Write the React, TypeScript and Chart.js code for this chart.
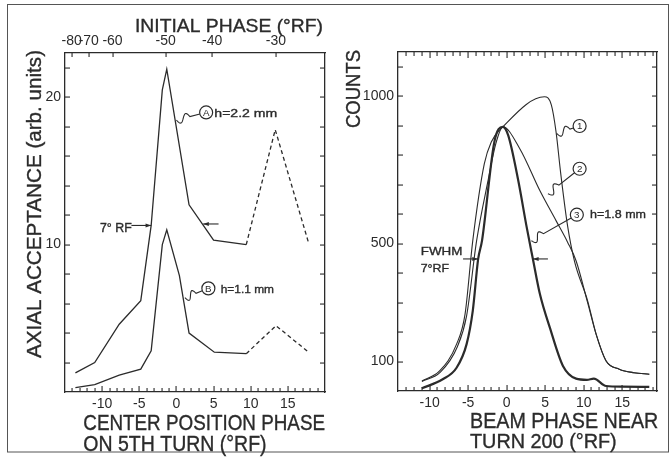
import React, { useEffect, useRef } from 'react';
import { Chart, registerables } from 'chart.js';
Chart.register(...registerables);

// ---------- Left panel data (center position phase vs axial acceptance) ----------
const aX = [-13.6, -11.0, -7.7, -4.8, -3.4, -1.9, -1.3, 1.7, 5.0, 9.4, 13.3, 17.8];
const aY = [1.3, 2.0, 4.6, 6.2, 11.3, 20.5, 21.9, 12.7, 10.3, 10.0, 17.8, 10.1];
const bX = [-13.6, -11.0, -7.7, -4.8, -3.4, -1.9, -1.3, 0.4, 1.7, 5.1, 9.4, 13.4, 17.8];
const bY = [0.3, 0.5, 1.15, 1.55, 2.8, 10.0, 11.0, 7.9, 4.0, 2.7, 2.6, 4.5, 2.7];
const dashStartX = 9.4;
const leftXLabels = [-10, -5, 0, 5, 10, 15];
const leftYLabels = [10, 20];
const topTickPos = [-14.1, -11.8, -8.6, -1.44, 4.8, 13.4];
const topTickLabels = ['-80', '-70', '-60', '-50', '-40', '-30'];

// ---------- Right panel data (beam phase vs counts) ----------
const c1X = [-11.0, -8.7, -6.5, -5.4, -4.4, -2.9, -2.0, -0.5, 4.9, 5.8, 6.4, 7.0, 7.9, 8.8, 10.5, 11.6, 12.9, 14.6, 16.5, 18.5];
const c1Y = [34, 68, 159, 261, 510, 771, 845, 896, 998, 970, 880, 740, 560, 440, 306, 193, 102, 74, 62, 57];
const c2X = [-11.0, -8.6, -6.4, -5.2, -3.9, -2.4, -1.4, -0.5, 1.7, 4.3, 6.4, 7.9, 9.0, 10.5, 11.6, 12.9, 14.6, 16.5, 18.5];
const c2Y = [32, 64, 150, 255, 510, 716, 840, 896, 822, 680, 578, 505, 442, 300, 193, 102, 74, 62, 57];
const c3X = [-11.0, -8.3, -6.5, -5.2, -4.4, -3.7, -3.2, -1.6, -0.5, 0.2, 1.5, 2.6, 3.4, 4.3, 5.6, 7.3, 9.0, 10.4, 11.3, 12.9, 15.0, 18.5];
const c3Y = [9, 40, 79, 159, 272, 448, 510, 845, 896, 867, 714, 555, 448, 330, 215, 85, 42, 38, 42, 17, 15, 14];
const rightXLabels = [-10, -5, 0, 5, 10, 15];
const rightYLabels = [100, 500, 1000];

const INK = '#2b2b2b';
const FONT = '"Liberation Sans", Arial, sans-serif';

const pts = (xs: number[], ys: number[]) => xs.map((x, i) => ({ x, y: ys[i] }));

function txt(ctx: CanvasRenderingContext2D, s: string, x: number, y: number, capH: number, width: number, rotate = 0) {
  const size = capH / 0.716;
  ctx.save();
  ctx.font = `${size}px ${FONT}`;
  const w = ctx.measureText(s).width;
  ctx.translate(x, y);
  if (rotate) ctx.rotate(rotate);
  ctx.scale(width / w, 1);
  ctx.fillStyle = INK;
  ctx.strokeStyle = INK;
  ctx.lineWidth = 0.35;
  ctx.textBaseline = 'alphabetic';
  ctx.textAlign = 'left';
  ctx.fillText(s, 0, 0);
  ctx.strokeText(s, 0, 0);
  ctx.restore();
}

function circleLabel(ctx: CanvasRenderingContext2D, cx: number, cy: number, r: number, s: string) {
  ctx.save();
  ctx.strokeStyle = INK;
  ctx.lineWidth = 1.2;
  ctx.beginPath();
  ctx.arc(cx, cy, r, 0, Math.PI * 2);
  ctx.stroke();
  ctx.fillStyle = INK;
  ctx.font = `${r * 1.5}px ${FONT}`;
  ctx.textAlign = 'center';
  ctx.textBaseline = 'middle';
  ctx.fillText(s, cx, cy + 0.5);
  ctx.restore();
}

function squiggle(ctx: CanvasRenderingContext2D, x0: number, y0: number, x1: number, y1: number, r: number, wl: number, amp: number) {
  const dx = x1 - x0, dy = y1 - y0;
  const L = Math.hypot(dx, dy);
  const ux = dx / L, uy = dy / L, nx = -uy, ny = ux;
  ctx.save();
  ctx.strokeStyle = INK;
  ctx.lineWidth = 1.1;
  ctx.beginPath();
  ctx.moveTo(x0, y0);
  for (let i = 0; i <= 40; i++) {
    const t = (i / 40) * wl;
    const off = amp * Math.sin((2 * Math.PI * t) / wl);
    ctx.lineTo(x0 + ux * t + nx * off, y0 + uy * t + ny * off);
  }
  ctx.lineTo(x1 - ux * r, y1 - uy * r);
  ctx.stroke();
  ctx.restore();
}

function arrow(ctx: CanvasRenderingContext2D, x0: number, y0: number, x1: number, y1: number) {
  const ang = Math.atan2(y1 - y0, x1 - x0);
  ctx.save();
  ctx.strokeStyle = INK;
  ctx.fillStyle = INK;
  ctx.lineWidth = 1.1;
  ctx.beginPath();
  ctx.moveTo(x0, y0);
  ctx.lineTo(x1, y1);
  ctx.stroke();
  ctx.beginPath();
  ctx.moveTo(x1, y1);
  ctx.lineTo(x1 - 6 * Math.cos(ang - 0.35), y1 - 6 * Math.sin(ang - 0.35));
  ctx.lineTo(x1 - 6 * Math.cos(ang + 0.35), y1 - 6 * Math.sin(ang + 0.35));
  ctx.closePath();
  ctx.fill();
  ctx.restore();
}

// inward tick marks at every tick value of a Chart.js scale
function drawTicks(chart: any, id: string, values: number[], majorEvery: number) {
  const ctx = chart.ctx as CanvasRenderingContext2D;
  const ca = chart.chartArea;
  const s = chart.scales[id];
  if (!s) return;
  ctx.save();
  ctx.fillStyle = INK;
  values.forEach((v) => {
    const p = Math.round(s.getPixelForValue(v));
    const major = majorEvery > 0 && Math.abs(v / majorEvery - Math.round(v / majorEvery)) < 1e-6;
    if (s.position === 'bottom' || s.position === 'top') {
      if (p <= ca.left + 1 || p >= ca.right - 1) return;
      const len = major ? 6 : 4;
      if (s.position === 'bottom') ctx.fillRect(p - 0.5, ca.bottom - len, 1.1, len);
      else ctx.fillRect(p - 0.5, ca.top, 1.1, len);
    } else {
      if (p <= ca.top + 1 || p >= ca.bottom - 1) return;
      const len = 5;
      if (s.position === 'left') ctx.fillRect(ca.left, p - 0.5, len, 1.1);
      else ctx.fillRect(ca.right - len, p - 0.5, len, 1.1);
    }
  });
  ctx.restore();
}

const range = (a: number, b: number, step: number) => {
  const out: number[] = [];
  for (let v = a; v <= b + 1e-9; v += step) out.push(Math.round(v * 1000) / 1000);
  return out;
};

const leftDecor = {
  id: 'leftDecor',
  beforeDraw(chart: any) {
    const ctx = chart.ctx as CanvasRenderingContext2D;
    ctx.save();
    ctx.fillStyle = '#ffffff';
    ctx.fillRect(0, 0, chart.width, chart.height);
    ctx.strokeStyle = '#555';
    ctx.lineWidth = 1;
    ctx.strokeRect(7.5, 4.5, 661, 447.5);
    ctx.restore();
  },
  afterDraw(chart: any) {
    const ctx = chart.ctx as CanvasRenderingContext2D;
    drawTicks(chart, 'x', range(-15, 20, 1), 5);
    drawTicks(chart, 'x2', topTickPos, 0);
    drawTicks(chart, 'y', range(0, 22, 2), 0);
    drawTicks(chart, 'y2', range(0, 22, 2), 0);
    const sx = chart.scales.x, sy = chart.scales.y;
    const X = (v: number) => sx.getPixelForValue(v);
    const Y = (v: number) => sy.getPixelForValue(v);
    txt(ctx, 'INITIAL PHASE (°RF)', 135, 31.7, 13.3, 188);
    txt(ctx, 'AXIAL ACCEPTANCE (arb. units)', 40.5, 358, 14.5, 308, -Math.PI / 2);
    txt(ctx, 'CENTER POSITION PHASE', 83.3, 430, 16.3, 241.7);
    txt(ctx, 'ON 5TH TURN (°RF)', 83.3, 451, 15.5, 183.3);
    squiggle(ctx, X(0.0), Y(18.45), X(4.0), Y(18.97), 6.5, 14, 4);
    circleLabel(ctx, X(4.0), Y(18.97), 6.5, 'A');
    txt(ctx, 'h=2.2 mm', 214.3, 116.7, 8.3, 63);
    squiggle(ctx, X(1.14), Y(6.4), X(4.3), Y(7.03), 6.5, 12, 4);
    circleLabel(ctx, X(4.3), Y(7.03), 6.5, 'B');
    txt(ctx, 'h=1.1 mm', 220.7, 293.3, 8.3, 53.3);
    txt(ctx, '7° RF', 100, 231.7, 8.7, 31.7);
    arrow(ctx, X(-6.06), Y(11.3), X(-3.4), Y(11.3));
    arrow(ctx, X(5.67), Y(11.4), X(3.6), Y(11.4));
  },
};

const rightDecor = {
  id: 'rightDecor',
  afterDraw(chart: any) {
    const ctx = chart.ctx as CanvasRenderingContext2D;
    drawTicks(chart, 'x', range(-14, 19, 1), 5);
    drawTicks(chart, 'x2', range(-14, 19, 1), 5);
    drawTicks(chart, 'y', range(100, 1100, 100), 0);
    drawTicks(chart, 'y2', range(100, 1100, 100), 0);
    const sx = chart.scales.x, sy = chart.scales.y;
    const X = (v: number) => sx.getPixelForValue(v);
    const Y = (v: number) => sy.getPixelForValue(v);
    txt(ctx, 'COUNTS', 360, 128, 14.5, 78, -Math.PI / 2);
    txt(ctx, 'BEAM PHASE NEAR', 470, 428.3, 16.3, 188.3);
    txt(ctx, 'TURN 200 (°RF)', 470, 448.3, 15, 146.7);
    squiggle(ctx, X(6.48), Y(874), X(9.46), Y(899), 6.5, 14, 4);
    circleLabel(ctx, X(9.46), Y(899), 6.5, '1');
    squiggle(ctx, X(5.35), Y(669), X(9.46), Y(754), 6.5, 14, 4);
    circleLabel(ctx, X(9.46), Y(754), 6.5, '2');
    squiggle(ctx, X(3.2), Y(510), X(9.1), Y(598), 6.5, 14, 4);
    circleLabel(ctx, X(9.1), Y(598), 6.5, '3');
    txt(ctx, 'h=1.8 mm', 590, 218.3, 8.3, 56);
    txt(ctx, 'FWHM', 420.7, 255, 8.3, 41.7);
    txt(ctx, '7°RF', 420.7, 271.7, 8.3, 28.3);
    arrow(ctx, X(-5.66), Y(448), X(-3.73), Y(448));
    arrow(ctx, X(5.35), Y(448), X(3.41), Y(448));
  },
};

const tickFont = { family: FONT, size: 14 };

function axisCommon(extra: any) {
  return {
    type: 'linear',
    border: { color: INK, width: 1.3 },
    grid: { drawOnChartArea: false, drawTicks: false },
    ...extra,
    ticks: { autoSkip: false, maxRotation: 0, color: INK, font: tickFont, ...(extra.ticks || {}) },
  };
}

export default function App() {
  const leftRef = useRef<HTMLCanvasElement>(null);
  const rightRef = useRef<HTMLCanvasElement>(null);

  useEffect(() => {
    document.body.style.margin = '0';
    const left = new Chart(leftRef.current as HTMLCanvasElement, {
      type: 'line',
      data: {
        datasets: [
          {
            data: pts(aX, aY),
            borderColor: INK,
            borderWidth: 1.3,
            pointRadius: 0,
            tension: 0,
            segment: { borderDash: (c: any) => (c.p0.parsed.x >= dashStartX ? [4, 3] : undefined) },
          },
          {
            data: pts(bX, bY),
            borderColor: INK,
            borderWidth: 1.3,
            pointRadius: 0,
            tension: 0,
            segment: { borderDash: (c: any) => (c.p0.parsed.x >= dashStartX ? [4, 3] : undefined) },
          },
        ],
      },
      options: {
        responsive: false,
        animation: false,
        layout: { padding: { left: 0, right: 335, top: 0, bottom: 0 } },
        plugins: { legend: { display: false }, tooltip: { enabled: false } },
        scales: {
          x: axisCommon({
            position: 'bottom', min: -15, max: 20,
            afterFit: (s: any) => { s.height = 70; },
            ticks: { stepSize: 1, padding: 4, callback: (v: number) => (leftXLabels.includes(v) ? String(v) : '') },
          }),
          x2: axisCommon({
            position: 'top', min: -15, max: 20,
            afterFit: (s: any) => { s.height = 53; },
            afterBuildTicks: (s: any) => { s.ticks = topTickPos.map((v) => ({ value: v })); },
            ticks: { padding: 3, callback: (_v: number, i: number) => topTickLabels[i] },
          }),
          y: axisCommon({
            position: 'left', min: 0, max: 23,
            afterFit: (s: any) => { s.width = 65; },
            ticks: { stepSize: 2, padding: 4, callback: (v: number) => (leftYLabels.includes(v) ? String(v) : '') },
          }),
          y2: axisCommon({
            position: 'right', min: 0, max: 23,
            afterFit: (s: any) => { s.width = 10; },
            ticks: { stepSize: 2, callback: () => '' },
          }),
        },
      } as any,
      plugins: [leftDecor],
    });

    const lineDs = (xs: number[], ys: number[], w: number) => ({
      data: pts(xs, ys),
      borderColor: INK,
      borderWidth: w,
      pointRadius: 0,
      cubicInterpolationMode: 'monotone',
    });

    const right = new Chart(rightRef.current as HTMLCanvasElement, {
      type: 'line',
      data: {
        datasets: [lineDs(c1X, c1Y, 1.1), lineDs(c2X, c2Y, 1.1), lineDs(c3X, c3Y, 2.2)],
      },
      options: {
        responsive: false,
        animation: false,
        layout: { padding: { left: 335, right: 0, top: 0, bottom: 0 } },
        plugins: { legend: { display: false }, tooltip: { enabled: false } },
        scales: {
          x: axisCommon({
            position: 'bottom', min: -14.1, max: 19.5,
            afterFit: (s: any) => { s.height = 71; },
            ticks: { stepSize: 1, padding: 4, callback: (v: number) => (rightXLabels.includes(v) ? String(v) : '') },
          }),
          x2: axisCommon({
            position: 'top', min: -14.1, max: 19.5,
            afterFit: (s: any) => { s.height = 52; },
            ticks: { stepSize: 1, callback: () => '' },
          }),
          y: axisCommon({
            position: 'left', min: 0, max: 1150,
            afterFit: (s: any) => { s.width = 63; },
            ticks: { stepSize: 100, padding: 4, callback: (v: number) => (rightYLabels.includes(v) ? String(v) : '') },
          }),
          y2: axisCommon({
            position: 'right', min: 0, max: 1150,
            afterFit: (s: any) => { s.width = 13; },
            ticks: { stepSize: 100, callback: () => '' },
          }),
        },
      } as any,
      plugins: [rightDecor],
    });

    return () => {
      left.destroy();
      right.destroy();
    };
  }, []);

  return (
    <div style={{ position: 'relative', width: 670, height: 462, background: '#fff' }}>
      <canvas ref={leftRef} width={670} height={462} style={{ position: 'absolute', left: 0, top: 0 }} />
      <canvas ref={rightRef} width={670} height={462} style={{ position: 'absolute', left: 0, top: 0 }} />
    </div>
  );
}
